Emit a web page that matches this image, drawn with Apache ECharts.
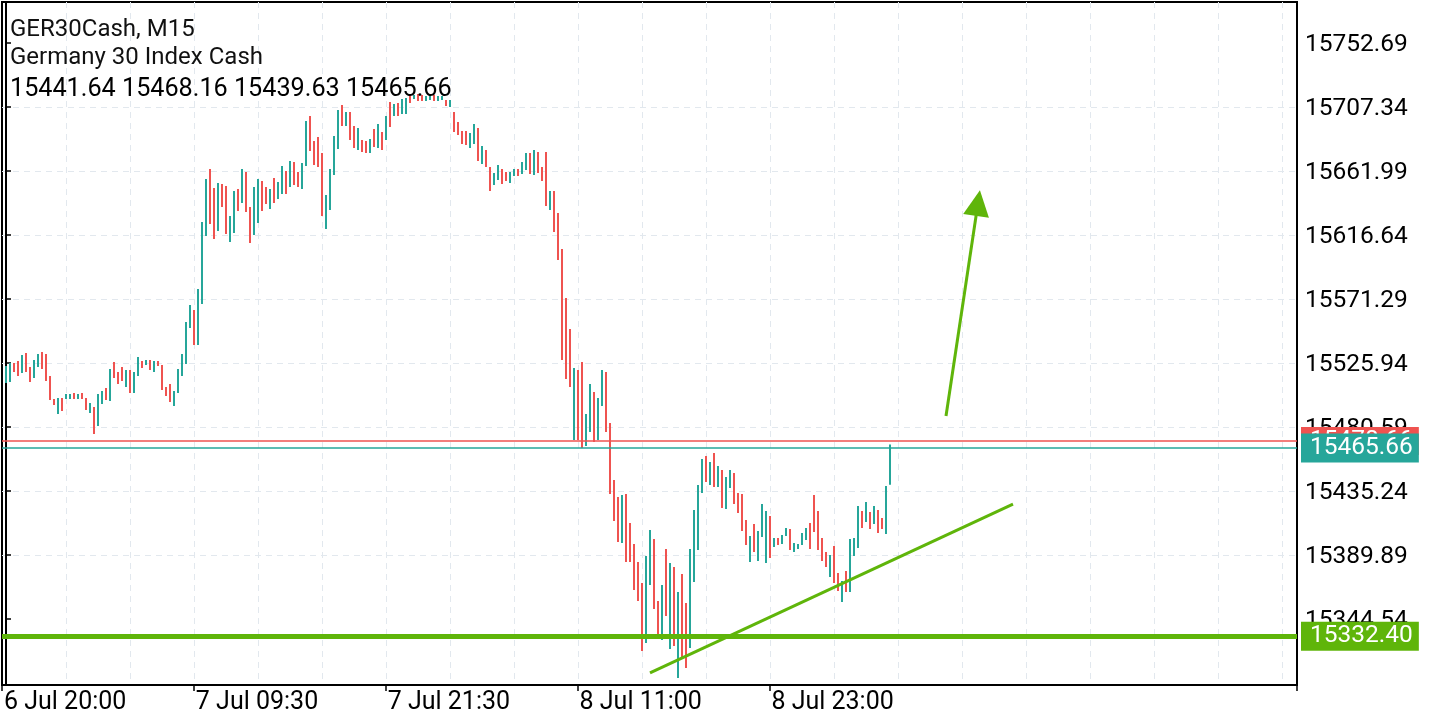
<!DOCTYPE html>
<html><head><meta charset="utf-8">
<script src="https://cdn.jsdelivr.net/npm/echarts@6/dist/echarts.min.js"></script>
<style>html,body{margin:0;padding:0;background:#fff}#c{width:1440px;height:720px}</style>
</head><body><div id="c"></div><script>
const symbolName = 'GER30Cash, M15';
const symbolDesc = 'Germany 30 Index Cash';
const xTickLabels = ['6 Jul 20:00', '7 Jul 09:30', '7 Jul 21:30', '8 Jul 11:00', '8 Jul 23:00'];
const barsPerLabel = 48;
const totalSlots = 324;
const yTicks = [15344.54, 15389.89, 15435.24, 15480.59, 15525.94, 15571.29, 15616.64, 15661.99, 15707.34, 15752.69];
const yMin = 15297.77, yMax = 15781.74;
const bidPrice = 15465.66, askPrice = 15470.66, supportLevel = 15332.40;
const trendLine = [[161, 15306.3], [251.75, 15426.0]];
const arrowLine = [[235, 15488.4], [243, 15639.3]];
// [open, high, low, close] per M15 bar
const bars = [
[15513.2,15523.8,15511.8,15523.1],[15523.1,15525.9,15512.5,15525.2],[15525.2,15525.9,15519.6,15520.3],[15520.3,15527.4,15516.7,15517.4],
[15519.6,15531.6,15518.9,15530.9],[15530.9,15533.0,15519.6,15520.3],[15520.3,15523.1,15512.5,15513.2],[15516.0,15528.1,15515.3,15527.4],
[15527.4,15532.3,15523.1,15531.6],[15531.6,15533.7,15521.7,15522.4],[15522.4,15532.3,15513.2,15513.9],[15513.9,15516.7,15499.7,15500.4],
[15499.7,15500.4,15496.2,15496.9],[15496.9,15501.1,15489.8,15500.4],[15500.4,15501.1,15491.9,15492.6],[15501.1,15503.9,15500.4,15503.2],
[15500.8,15503.9,15500.4,15503.2],[15503.2,15504.6,15500.4,15501.1],[15501.1,15503.9,15500.4,15503.2],[15503.2,15504.6,15500.4,15501.1],
[15501.1,15501.1,15492.6,15493.3],[15493.3,15497.6,15490.5,15496.9],[15494.0,15494.8,15475.6,15476.3],[15482.0,15503.9,15481.3,15503.2],
[15499.7,15506.1,15496.9,15505.4],[15505.4,15508.2,15499.7,15500.4],[15500.4,15521.7,15499.0,15521.0],[15521.0,15526.6,15515.3,15516.0],
[15518.9,15519.6,15511.1,15511.8],[15519.6,15523.1,15513.2,15513.9],[15513.9,15521.0,15509.0,15520.3],[15520.3,15521.0,15504.7,15505.4],
[15505.4,15519.6,15504.7,15518.9],[15518.9,15530.2,15516.7,15529.5],[15526.6,15527.4,15522.4,15523.1],[15525.2,15528.1,15524.5,15527.4],
[15527.4,15528.1,15521.0,15521.7],[15521.7,15527.4,15519.6,15526.6],[15526.6,15527.4,15523.8,15524.5],[15523.8,15524.5,15506.8,15507.5],
[15508.2,15509.0,15502.5,15503.2],[15509.6,15511.1,15498.3,15499.0],[15499.0,15506.1,15495.5,15505.4],[15505.4,15521.7,15504.7,15521.0],
[15521.0,15532.3,15516.7,15531.6],[15531.6,15555.0,15525.2,15554.3],[15554.3,15567.0,15550.7,15566.3],[15562.8,15563.5,15538.7,15539.4],
[15539.4,15578.4,15538.7,15577.7],[15577.7,15625.9,15567.7,15625.1],[15625.1,15656.3,15615.9,15655.6],[15655.6,15663.4,15624.4,15625.1],
[15625.1,15649.9,15613.8,15614.5],[15620.2,15653.5,15619.5,15652.8],[15652.1,15652.8,15636.5,15637.2],[15637.2,15651.4,15617.3,15618.1],
[15618.1,15630.1,15611.7,15629.4],[15629.4,15647.8,15618.1,15647.1],[15647.1,15649.2,15633.6,15634.4],[15640.0,15663.4,15639.3,15662.7],
[15660.6,15661.3,15632.9,15633.6],[15633.6,15636.5,15611.0,15611.7],[15617.3,15650.7,15616.6,15649.9],[15649.9,15656.3,15625.1,15655.6],
[15654.2,15654.9,15633.6,15634.4],[15649.9,15650.7,15638.6,15639.3],[15639.3,15649.2,15635.1,15648.5],[15648.5,15657.0,15639.3,15640.0],
[15642.9,15654.2,15642.2,15653.5],[15653.5,15665.5,15645.7,15664.8],[15661.3,15662.0,15645.7,15646.4],[15651.4,15669.1,15650.7,15668.4],
[15667.7,15668.4,15652.1,15652.8],[15660.6,15661.3,15650.7,15651.4],[15651.4,15667.7,15649.2,15667.0],[15667.0,15697.4,15665.5,15696.7],
[15696.7,15701.0,15676.2,15676.9],[15676.9,15683.3,15666.2,15667.0],[15676.9,15686.1,15664.8,15665.5],[15665.5,15674.7,15630.1,15630.8],
[15630.8,15645.0,15620.9,15644.3],[15644.3,15663.4,15634.4,15662.7],[15662.7,15686.7,15659.2,15686.0],[15686.0,15705.2,15677.6,15704.5],
[15704.5,15708.8,15693.9,15694.6],[15694.6,15703.8,15693.9,15703.1],[15703.1,15703.8,15684.0,15684.7],[15684.7,15693.9,15678.3,15679.0],
[15679.0,15692.5,15676.9,15691.8],[15683.3,15684.0,15675.5,15676.2],[15680.4,15683.3,15674.7,15675.5],[15675.5,15684.7,15674.7,15684.0],
[15684.0,15691.8,15679.0,15679.7],[15679.7,15695.3,15678.3,15694.6],[15688.8,15689.6,15676.9,15677.6],[15684.7,15701.0,15684.0,15700.3],
[15700.3,15710.9,15693.2,15693.9],[15701.7,15709.5,15701.0,15708.8],[15708.8,15710.2,15701.0,15701.7],[15703.1,15713.0,15702.4,15712.3],
[15705.2,15713.7,15702.4,15713.0],[15713.0,15716.6,15710.2,15710.9],[15713.7,15715.8,15713.0,15715.1],[15715.1,15716.6,15711.6,15712.3],
[15715.1,15715.8,15711.6,15712.3],[15712.3,15715.1,15711.6,15714.4],[15713.0,15715.1,15712.3,15714.4],[15714.4,15715.8,15711.6,15712.3],
[15712.3,15715.1,15711.6,15714.4],[15713.0,15715.1,15712.3,15714.4],[15711.6,15712.3,15708.1,15708.8],[15708.1,15712.3,15707.4,15711.6],
[15703.1,15703.8,15689.6,15690.3],[15696.0,15696.7,15687.5,15688.2],[15688.2,15690.3,15681.1,15681.8],[15687.5,15690.3,15680.4,15681.1],
[15681.1,15688.9,15678.3,15688.2],[15688.2,15695.3,15681.1,15694.6],[15691.8,15692.5,15669.1,15669.8],[15669.8,15679.7,15667.0,15679.0],
[15676.2,15676.9,15664.8,15665.5],[15664.8,15664.8,15647.8,15648.5],[15652.8,15660.6,15652.1,15659.9],[15659.9,15666.2,15655.6,15665.5],
[15662.7,15663.4,15652.8,15653.5],[15660.6,15661.3,15654.9,15655.6],[15655.6,15661.3,15653.5,15660.6],[15660.6,15663.4,15658.5,15662.7],
[15662.7,15663.4,15658.5,15659.2],[15660.6,15668.4,15659.9,15667.7],[15667.7,15674.7,15662.7,15674.0],[15674.0,15674.7,15659.9,15660.6],
[15660.6,15676.9,15659.2,15676.2],[15674.7,15675.5,15660.6,15661.3],[15664.1,15664.8,15654.9,15655.6],[15664.1,15675.5,15637.2,15637.9],
[15637.9,15647.8,15634.4,15647.1],[15647.1,15647.8,15618.8,15619.5],[15619.5,15632.2,15598.9,15599.6],[15599.6,15606.7,15528.1,15528.8],
[15528.8,15572.0,15514.6,15515.3],[15515.3,15550.0,15509.0,15509.6],[15509.6,15522.4,15471.4,15521.7],[15520.3,15521.0,15471.4,15472.1],
[15472.1,15526.6,15465.7,15466.4],[15467.8,15489.8,15467.1,15489.1],[15489.1,15511.1,15477.1,15510.4],[15504.7,15505.4,15470.0,15470.7],
[15472.1,15501.1,15471.4,15500.4],[15500.4,15521.0,15495.5,15520.3],[15518.9,15519.6,15477.1,15477.8],[15477.8,15483.4,15433.1,15433.8],
[15433.8,15443.0,15414.0,15414.7],[15414.7,15431.0,15399.1,15399.8],[15399.8,15432.4,15398.4,15431.7],[15431.7,15433.1,15384.9,15385.6],
[15407.6,15412.6,15384.9,15385.6],[15385.6,15397.7,15365.1,15365.8],[15365.8,15384.9,15357.3,15358.0],[15358.0,15370.0,15321.9,15322.6],
[15328.2,15389.2,15327.5,15388.5],[15388.5,15407.6,15368.6,15406.9],[15400.5,15401.2,15351.6,15352.3],[15352.3,15357.3,15333.9,15334.6],
[15334.6,15368.6,15329.7,15367.9],[15367.9,15394.1,15346.7,15347.4],[15347.4,15384.2,15323.3,15383.5],[15380.7,15381.4,15325.4,15326.1],
[15326.1,15363.7,15302.7,15363.0],[15363.0,15376.4,15316.9,15317.6],[15317.6,15355.9,15309.8,15310.5],[15324.7,15394.1,15324.0,15393.4],
[15393.4,15421.8,15370.8,15421.1],[15421.1,15439.5,15393.4,15438.8],[15438.8,15457.9,15433.8,15457.2],[15457.2,15460.0,15441.6,15442.3],
[15442.3,15455.8,15439.5,15455.1],[15455.1,15462.2,15438.1,15438.8],[15438.8,15453.0,15438.1,15452.2],[15449.4,15450.1,15423.2,15423.9],
[15423.9,15445.2,15422.5,15444.5],[15444.5,15450.1,15437.4,15449.4],[15447.3,15448.0,15426.0,15426.7],[15426.7,15433.8,15419.7,15420.4],
[15420.4,15433.1,15406.9,15407.6],[15407.6,15414.7,15397.0,15397.7],[15397.7,15403.3,15384.9,15402.6],[15402.6,15411.9,15392.0,15392.7],
[15392.7,15406.9,15385.6,15406.2],[15406.2,15426.0,15402.6,15425.3],[15400.5,15421.1,15384.2,15420.4],[15416.8,15417.5,15387.8,15388.5],
[15396.3,15401.9,15395.6,15401.2],[15401.2,15401.9,15397.0,15397.7],[15398.4,15404.0,15397.7,15403.3],[15404.0,15409.0,15403.3,15408.3],
[15407.6,15408.3,15393.4,15394.1],[15394.1,15398.4,15392.0,15397.7],[15394.9,15397.7,15394.1,15397.0],[15397.7,15405.5,15397.0,15404.7],
[15404.7,15409.0,15400.5,15408.3],[15408.3,15412.6,15394.1,15394.9],[15428.9,15432.4,15406.2,15406.9],[15406.9,15421.1,15393.4,15394.1],
[15394.1,15401.9,15385.6,15386.3],[15386.3,15392.0,15381.4,15382.1],[15382.1,15389.9,15374.3,15389.2],[15389.2,15396.3,15370.1,15370.8],
[15370.8,15377.1,15364.4,15365.1],[15365.1,15371.5,15356.6,15370.8],[15370.8,15378.6,15363.7,15364.4],[15364.4,15401.2,15363.7,15400.5],
[15393.4,15401.9,15389.2,15401.2],[15401.2,15424.6,15394.9,15423.9],[15420.4,15421.1,15409.0,15409.7],[15414.0,15427.4,15413.3,15426.7],
[15419.7,15420.4,15408.3,15409.0],[15412.6,15424.6,15411.9,15423.9],[15421.1,15421.8,15405.5,15406.2],[15415.4,15416.1,15408.3,15409.0],
[15409.0,15438.8,15404.7,15438.1],[15441.64,15468.16,15439.63,15465.66]
];

const UP = '#26a69a', DOWN = '#ef5350', GREEN = '#5fb50a';
const FONT = 'Roboto';
const categories = [];
for (let i = 0; i < totalSlots; i++) {
  const k = i / barsPerLabel;
  categories.push(Number.isInteger(k) && k < xTickLabels.length ? xTickLabels[k] : '');
}
const seriesData = bars.map((b, i) => [i, b[0], b[1], b[2], b[3]]);
const last = bars[bars.length - 1];
const fmt = v => v.toFixed(2);

const chart = echarts.init(document.getElementById('c'), null, {renderer: 'canvas'});
const showLbl = (idx, val) => val !== '';
const gridLine = {show: true, showMinLine: false, showMaxLine: false, lineStyle: {color: '#e2e8ee', width: 1, type: [6, 5]}};
chart.setOption({
  animation: false,
  backgroundColor: '#fff',
  textStyle: {fontFamily: FONT},
  grid: {left: 2, top: 2, width: 1295, height: 683, show: true, borderColor: '#000', borderWidth: 2, containLabel: false, z: 0},
  xAxis: [
    {type: 'value', min: -1, max: 322.75, show: false, position: 'top'},
    {type: 'value', min: 0, max: 323.75, interval: 16, position: 'top',
      axisLine: {show: false}, axisTick: {show: false}, axisLabel: {show: false},
      splitLine: gridLine},
    {type: 'category', data: categories, boundaryGap: true, position: 'bottom',
      axisLine: {show: true, lineStyle: {color: '#000', width: 2}},
      axisTick: {show: true, interval: showLbl, length: 6, lineStyle: {color: '#000', width: 1.5}},
      axisLabel: {show: true, interval: showLbl, align: 'left', color: '#000', fontSize: 25, fontFamily: FONT, margin: 5},
      splitLine: {show: false}}
  ],
  yAxis: [{
    type: 'value', position: 'right', min: yMin, max: yMax,
    axisLine: {show: true, lineStyle: {color: '#000', width: 2}},
    axisTick: {show: true, customValues: yTicks, length: 5, lineStyle: {color: '#000', width: 1.5}},
    axisLabel: {show: true, customValues: yTicks, formatter: v => '{t|' + fmt(v) + '}', margin: 8,
      rich: {t: {color: '#000', fontSize: 24.5, fontFamily: FONT, padding: [4, 0, 0, 0]}}},
    splitLine: gridLine
  }],
  graphic: [
    {type: 'text', left: 10, top: 18, z: 100, style: {text: symbolName, fontSize: 24, fontFamily: FONT, fill: '#111'}},
    {type: 'text', left: 10, top: 46, z: 100, style: {text: symbolDesc, fontSize: 24, fontFamily: FONT, fill: '#111'}},
    {type: 'text', left: 10, top: 77, z: 100, style: {text: last.map(fmt).join(' '), fontSize: 25.2, fontFamily: FONT, fill: '#000'}}
  ],
  series: [
    {
      type: 'custom', name: 'GER30Cash', xAxisIndex: 0, yAxisIndex: 0, z: 2,
      data: seriesData, encode: {x: 0, y: [2, 3]},
      renderItem: (params, api) => {
        const x = api.value(0), o = api.value(1), h = api.value(2), l = api.value(3), c = api.value(4);
        const top = api.coord([x, h]), bot = api.coord([x, l]);
        return {type: 'rect', shape: {x: top[0] - 1, y: top[1], width: 2, height: Math.max(1, bot[1] - top[1])},
          style: {fill: c >= o ? UP : DOWN}};
      }
    },
    {
      type: 'line', xAxisIndex: 0, yAxisIndex: 0, data: [], z: 5, silent: true,
      markLine: {silent: true, symbol: 'none', animation: false,
        lineStyle: {color: DOWN, width: 1.5, type: 'solid'},
        label: {show: true, position: 'end', distance: 4, formatter: p => fmt(p.value), color: '#fff', backgroundColor: DOWN,
          fontSize: 24.5, fontFamily: FONT, padding: [1, 6, 1, 9], lineHeight: 26},
        data: [{yAxis: askPrice}]}
    },
    {
      type: 'line', xAxisIndex: 0, yAxisIndex: 0, data: [], z: 6, silent: true,
      markLine: {silent: true, symbol: 'none', animation: false,
        lineStyle: {color: UP, width: 1.5, type: 'solid'},
        label: {show: true, position: 'end', distance: 4, formatter: p => fmt(p.value), color: '#fff', backgroundColor: UP,
          fontSize: 24.5, fontFamily: FONT, padding: [2, 6, 1, 9], lineHeight: 26},
        data: [{yAxis: bidPrice}]}
    },
    {
      type: 'line', xAxisIndex: 0, yAxisIndex: 0, data: [], z: 7, silent: true,
      markLine: {silent: true, symbol: 'none', animation: false,
        lineStyle: {color: GREEN, width: 5, type: 'solid'},
        label: {show: true, position: 'end', distance: 4, formatter: p => fmt(p.value), color: '#fff', backgroundColor: GREEN,
          fontSize: 24.5, fontFamily: FONT, padding: [2, 6, 1, 9], lineHeight: 26},
        data: [{yAxis: supportLevel}]}
    },
    {
      type: 'line', xAxisIndex: 0, yAxisIndex: 0, data: [], z: 8, silent: true,
      markLine: {silent: true, animation: false, symbol: ['none', 'none'],
        lineStyle: {color: GREEN, width: 3, type: 'solid'}, label: {show: false},
        data: [[{coord: trendLine[0]}, {coord: trendLine[1]}]]}
    },
    {
      type: 'line', xAxisIndex: 0, yAxisIndex: 0, data: [], z: 8, silent: true,
      markLine: {silent: true, animation: false, symbol: ['none', 'triangle'], symbolSize: 26,
        lineStyle: {color: GREEN, width: 3, type: 'solid'}, label: {show: false},
        data: [[{coord: arrowLine[0]}, {coord: arrowLine[1]}]]}
    }
  ]
});
</script></body></html>
